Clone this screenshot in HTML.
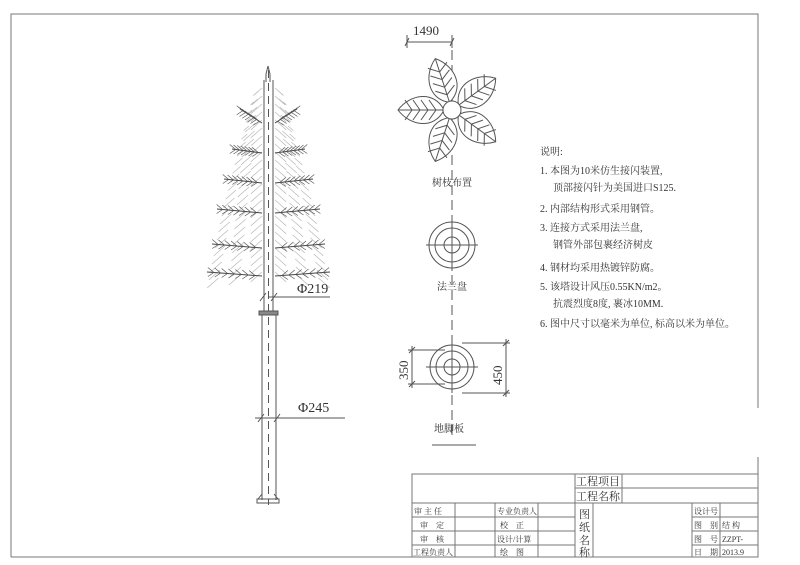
<!DOCTYPE html>
<html><head><meta charset="utf-8"><style>
html,body{margin:0;padding:0;background:#fff;}
svg{display:block}
text{font-family:"Liberation Serif","Noto Serif CJK SC",serif;fill:#333}
.c{font-family:"Liberation Serif","Noto Sans CJK SC",sans-serif;}
</style></head><body>
<svg id="s" width="800" height="565" viewBox="0 0 800 565" xmlns="http://www.w3.org/2000/svg">
<g fill="none" stroke="#777" stroke-width="1">
<path d="M11 557 V14 H758 V408"/>
<path d="M758 457 V557 H11"/>
<rect x="412" y="474" width="346" height="83"/>
<path d="M575 474 V557 M575 488 H758 M412 503 H758 M622 474 V503
M455 503 V557 M495 503 V557 M538 503 V557 M593 503 V557 M692 503 V557 M720 503 V557
M412 517 H575 M412 531 H575 M412 545 H575 M692 517 H758 M692 531 H758 M692 545 H758"/>
</g>
<g class="c" font-size="8">
<text x="414" y="514">审 主 任</text><text x="497" y="514">专业负责人</text>
<text x="420" y="528">审　定</text><text x="500" y="528">校　正</text>
<text x="420" y="542">审　核</text><text x="497" y="542">设计/计算</text>
<text x="413" y="555">工程负责人</text><text x="500" y="555">绘　图</text>
<text x="694" y="514">设计号</text><text x="694" y="528">图　别</text><text x="722" y="528">结 构</text>
<text x="694" y="542">图　号</text><text x="722" y="542">ZZPT-</text>
<text x="694" y="555">日　期</text><text x="722" y="555">2013.9</text>
</g>
<g class="c" font-size="11">
<text x="576" y="485">工程项目</text><text x="576" y="500">工程名称</text>
<text x="579" y="518">图</text><text x="579" y="531">纸</text><text x="579" y="544">名</text><text x="579" y="556">称</text>
</g>
<g class="c" font-size="10" fill="#444">
<text x="540" y="155">说明:</text>
<text x="540" y="174">1. 本图为10米仿生接闪装置,</text>
<text x="553" y="191">顶部接闪针为美国进口S125.</text>
<text x="540" y="212">2. 内部结构形式采用钢管。</text>
<text x="540" y="231">3. 连接方式采用法兰盘,</text>
<text x="553" y="248">钢管外部包裹经济树皮</text>
<text x="540" y="271">4. 钢材均采用热镀锌防腐。</text>
<text x="540" y="290">5. 该塔设计风压0.55KN/m2。</text>
<text x="553" y="307">抗震烈度8度, 裹冰10MM.</text>
<text x="540" y="327">6. 图中尺寸以毫米为单位, 标高以米为单位。</text>
</g>
<g fill="none" stroke="#555" stroke-width="1">
<path d="M452 50 V440" stroke-dasharray="10 5"/>
<path d="M407 42 H452 M405 46 L409 38 M450 46 L454 38 M407 35 V48 M452 35 V48"/>
<g id="flower" transform="translate(452,110)"></g>
<circle cx="452" cy="110" r="9" fill="#fff"/>
<circle cx="452" cy="245" r="23"/><circle cx="452" cy="245" r="17"/><circle cx="452" cy="245" r="8"/>
<path d="M426 245 H478 M452 219 V271"/>
<circle cx="452" cy="367" r="22"/><circle cx="452" cy="367" r="16"/><circle cx="452" cy="367" r="8"/>
<path d="M426 367 H478 M452 341 V393"/>
<path d="M408 350 H445 M408 384 H445 M412 346 V388 M409 353 L415 347 M409 387 L415 381"/>
<path d="M462 343 H510 M462 393 H510 M506 339 V397 M503 346 L509 340 M503 396 L509 390"/>
<path d="M432 445 H476"/>
</g>
<g font-size="13">
<text x="413" y="35">1490</text>
<text transform="translate(408,380) rotate(-90)">350</text>
<text transform="translate(502,385) rotate(-90)">450</text>
</g>
<g class="c" font-size="10" fill="#2a5a3a">
<text x="432" y="186">树枝布置</text>
<text x="437" y="290">法兰盘</text>
<text x="434" y="432">地脚板</text>
</g>
<g id="tree" fill="none" stroke="#666" stroke-width="0.8"></g>
<g fill="none" stroke="#555" stroke-width="1">
<path d="M264 80 V312 M273 80 V312"/>
<path d="M268 66 L266 74 V82 M268 66 L270 74 V82"/>
<path d="M268.5 70 V505" stroke-dasharray="8 5"/>
<rect x="259" y="311" width="19" height="4" fill="#888"/>
<path d="M262 315 V500 M276 315 V500"/>
<rect x="257" y="499" width="22" height="4"/>
<path d="M258 499 L262 494 M278 499 L274 494"/>
<path d="M268 297 H330 M260 301 L266 293 M271 301 L277 293"/>
<path d="M255 418 H345 M258 422 L264 414 M274 422 L280 414"/>
</g>
<g font-size="14"><text x="297" y="293">Φ219</text><text x="298" y="412">Φ245</text></g>
</svg>
<script>
var NS="http://www.w3.org/2000/svg";
function L(g,x1,y1,x2,y2,c,w){var l=document.createElementNS(NS,"line");l.setAttribute("x1",x1);l.setAttribute("y1",y1);l.setAttribute("x2",x2);l.setAttribute("y2",y2);if(c)l.setAttribute("stroke",c);if(w)l.setAttribute("stroke-width",w);g.appendChild(l);}
var t=document.getElementById("tree");
// light hatch inside triangle
for(var i=0;i<24;i++){var y=88+i*8;var half=10+(y-88)*0.3;
 for(var j=0;j<3;j++){var r=j/3;var xs=half*r;
  var len=Math.min(14,half-xs);if(len<4)continue;
  L(t,262-xs,y+j*3,262-xs-len*0.8,y+j*3+len*0.7,"#bbb",0.7);
  L(t,275+xs,y+j*3,275+xs+len*0.8,y+j*3+len*0.7,"#bbb",0.7);}}
var layers=[[115,22],[145,30],[175,38],[205,45],[240,50],[268,55]];
layers.forEach(function(a){var y=a[0],len=a[1];
 [-1,1].forEach(function(s){var x0=s<0?262:275;var x1=x0+s*len,y1=y-(y<120?6:-4);
  L(t,x0,y+8,x1,y1,"#444",1);
  for(var k=1;k<8;k++){var f=k/8;var px=x0+s*len*f,py=(y+8)+(y1-y-8)*f;
   L(t,px,py,px+s*6,py-5,"#555",0.7);L(t,px,py,px+s*6,py+4,"#555",0.7);}
 });});
var f=document.getElementById("flower");
for(var p=0;p<5;p++){var ang=-90+72*p+198;var g=document.createElementNS(NS,"g");
 g.setAttribute("transform","rotate("+ang+")");
 var e=document.createElementNS(NS,"path");e.setAttribute("d","M8 0 C18 -20 42 -16 54 0 C42 16 18 20 8 0 Z");e.setAttribute("fill","#fff");g.appendChild(e);
 L(g,8,0,54,0);
 for(var k=0;k<4;k++){var x=16+k*8;L(g,x,0,x+7,-10);L(g,x,0,x+7,10);}
 f.appendChild(g);}
</script>
</body></html>
